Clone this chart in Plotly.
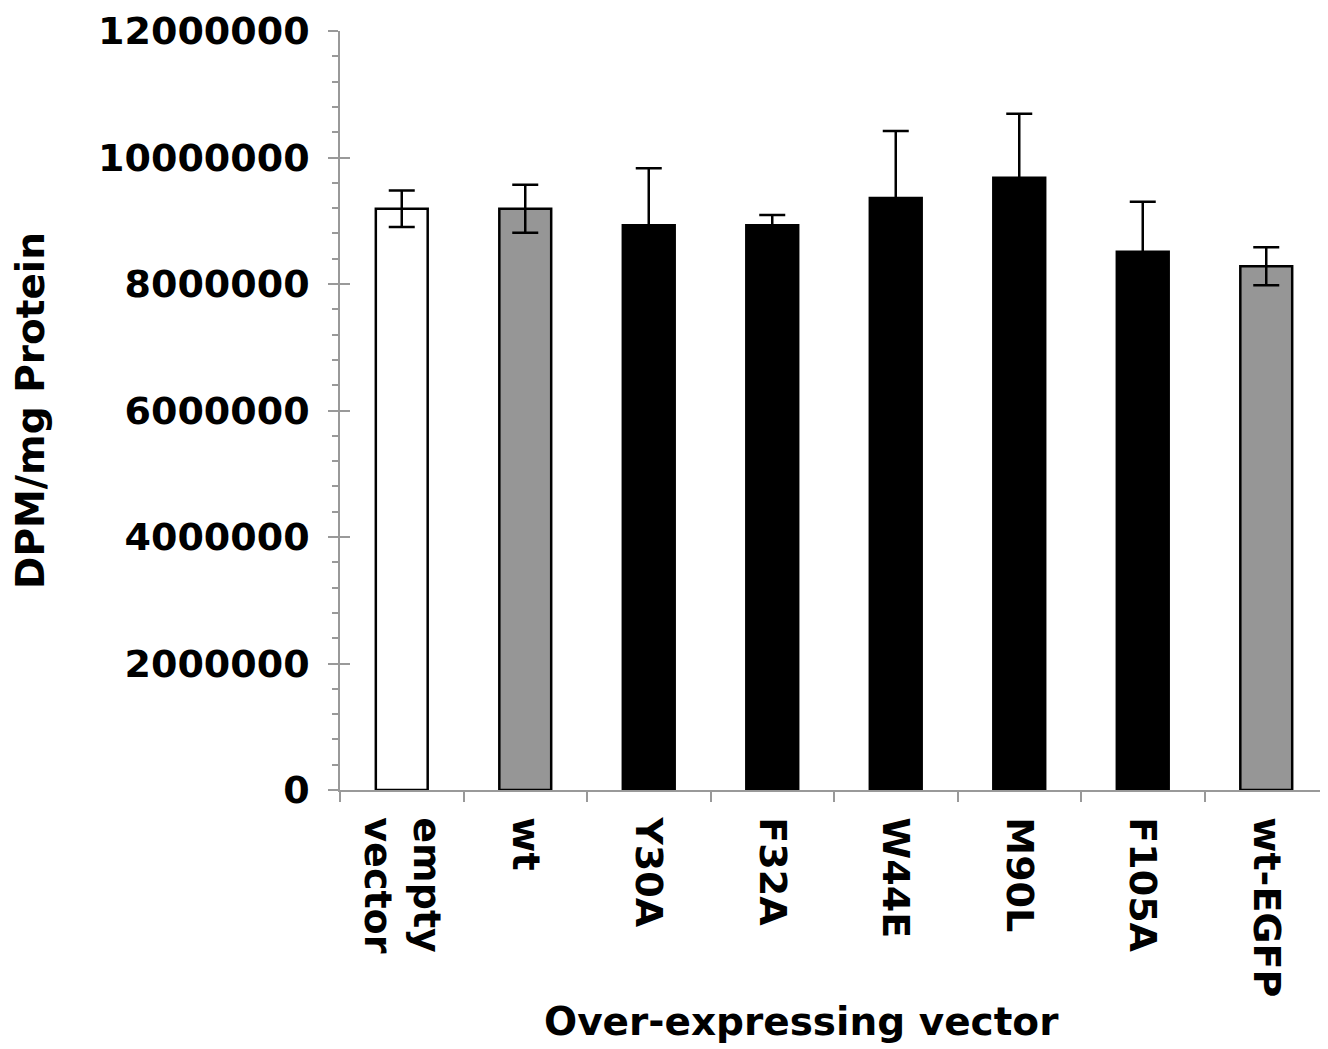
import plotly.graph_objects as go

categories = ["empty<br>vector", "wt", "Y30A", "F32A", "W44E", "M90L", "F105A", "wt-EGFP"]
values = [9190000, 9190000, 8930000, 8930000, 9360000, 9680000, 8510000, 8280000]
errors = [290000, 380000, 900000, 160000, 1060000, 1010000, 790000, 300000]
colors = ["#ffffff", "#969696", "#000000", "#000000", "#000000", "#000000", "#000000", "#969696"]
y_tickvals = [0, 2000000, 4000000, 6000000, 8000000, 10000000, 12000000]
y_ticktext = ["0", "2000000", "4000000", "6000000", "8000000", "10000000", "12000000"]

FONT = "DejaVu Sans"

fig = go.Figure()
fig.add_trace(go.Bar(
    x=categories, y=values,
    marker=dict(color=colors, line=dict(color="#000000", width=2.5)),
    width=0.42,
    error_y=dict(type="data", array=errors, visible=True, color="#000000",
                 thickness=2.5, width=13),
    showlegend=False,
))
# invisible trace for the inside half of the major ticks
fig.add_trace(go.Scatter(x=[categories[0]], y=[0], yaxis="y2", mode="markers",
                         marker=dict(opacity=0), showlegend=False, hoverinfo="skip"))

fig.update_layout(
    width=1320, height=1041,
    margin=dict(l=332, r=0, t=23, b=259),
    paper_bgcolor="white", plot_bgcolor="white",
    font=dict(family=FONT, size=38, color="#000000"),
    xaxis=dict(
        type="category",
        showline=True, linecolor="#999999", linewidth=1.5,
        ticks="outside", tickson="boundaries", ticklen=10, tickcolor="#999999", tickwidth=1.5,
        tickangle=90,
        ticklabelstandoff=18,
        tickfont=dict(family=FONT, size=38, color="#000000", weight="bold"),
        showgrid=False, zeroline=False,
        automargin=False,
    ),
    yaxis=dict(
        range=[0, 12000000],
        showline=True, linecolor="#999999", linewidth=1.5,
        tickmode="array", tickvals=y_tickvals, ticktext=y_ticktext,
        ticks="outside", ticklen=10, tickcolor="#999999", tickwidth=1.5,
        tickfont=dict(family=FONT, size=38, color="#000000", weight="bold"),
        minor=dict(dtick=400000, ticks="outside", ticklen=6, tickcolor="#999999", tickwidth=1.5, showgrid=False),
        title=dict(text="<b>DPM/mg Protein</b>", font=dict(family=FONT, size=39), standoff=50),
        showgrid=False, zeroline=False,
        automargin=False,
        ticklabelstandoff=11,
    ),
    yaxis2=dict(
        range=[0, 12000000], overlaying="y", side="left",
        tickmode="array", tickvals=y_tickvals,
        ticks="inside", ticklen=10, tickcolor="#999999", tickwidth=1.5,
        showticklabels=False, showgrid=False, zeroline=False, showline=False,
    ),
    annotations=[dict(
        text="<b>Over-expressing vector</b>", xref="paper", yref="paper",
        x=0.4666, y=-0.305, xanchor="center", yanchor="middle",
        showarrow=False, font=dict(family=FONT, size=39, color="#000000"),
    )],
)

fig.write_html("out.html")
